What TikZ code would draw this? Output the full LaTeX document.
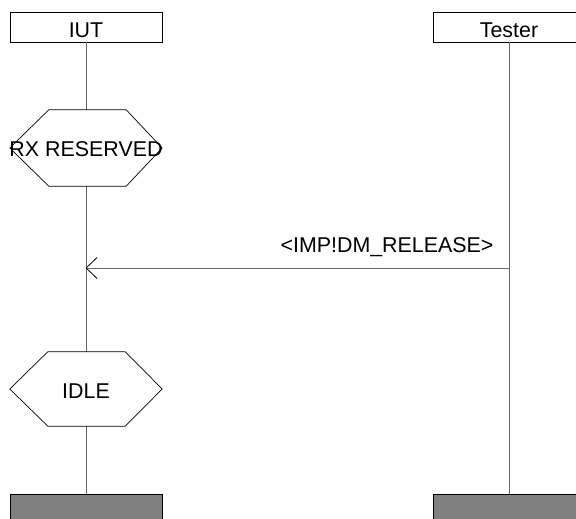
\documentclass[tikz,border=0pt]{standalone}
\usepackage{fontspec}
\setmainfont{Liberation Sans}
\usetikzlibrary{arrows.meta}
\begin{document}
\begin{tikzpicture}[x=1pt,y=-1pt,
  every node/.style={font=\fontsize{21.4}{25}\selectfont, inner sep=0pt},
  headbox/.style={draw=black, line width=0.8pt, fill=white, minimum width=152pt,
    text height=26pt, text depth=4pt},
  endbar/.style={draw=black, line width=0.8pt, fill=black!50, minimum width=152pt,
    minimum height=40pt, anchor=north},
  statebox/.style={minimum width=152pt},
  hexa/.style={draw=black, line width=0.7pt, fill=white},
  lifeline/.style={draw=black!60, line width=1pt},
  msg/.style={draw=black!60, line width=1pt}]
\useasboundingbox (0,0) rectangle (576,519);
\begin{scope}
\clip (0,0) rectangle (576,519);

% instance heads
\node[headbox] (iut) at (86,27) {IUT};
\node[headbox] (tester) at (509,27) {Tester};

% instance ends
\node[endbar] (iutend) at (86,494) {};
\node[endbar] (testerend) at (509,494) {};

% state conditions on the IUT
\node[statebox, text height=46pt, text depth=30pt] (rx) at (86,148) {};
\node[statebox, text height=46pt, text depth=28pt] (idle) at (86,389) {};

% lifelines
\draw[lifeline] (iut.south) -- (rx.north);
\draw[lifeline] (rx.south) -- (idle.north);
\draw[lifeline] (idle.south) -- (iutend.north);
\draw[lifeline] (tester.south) -- (testerend.north);

% hexagon outlines
\draw[hexa] (rx.west) -- ([xshift=39pt]rx.north west) -- ([xshift=-36pt]rx.north east)
  -- (rx.east) -- ([xshift=-36pt]rx.south east) -- ([xshift=39pt]rx.south west) -- cycle;
\node[statebox, text height=46pt, text depth=30pt] at (rx) {RX RESERVED};
\draw[hexa] (idle.west) -- ([xshift=38pt]idle.north west) -- ([xshift=-37pt]idle.north east)
  -- (idle.east) -- ([xshift=-37pt]idle.south east) -- ([xshift=38pt]idle.south west) -- cycle;
\node[statebox, text height=46pt, text depth=28pt] at (idle) {IDLE};

% message from Tester to IUT
\coordinate (msgfrom) at (509,268);
\coordinate (msgto) at (86,268);
\draw[msg, -{Straight Barb[length=11pt,width=21pt,line width=0.8pt,color=black]}, shorten >=-0.5pt]
  (msgfrom) -- (msgto);
\node[anchor=base] (msglabel) at (387,252) {<IMP!DM\_RELEASE>};
\end{scope}
\end{tikzpicture}
\end{document}
